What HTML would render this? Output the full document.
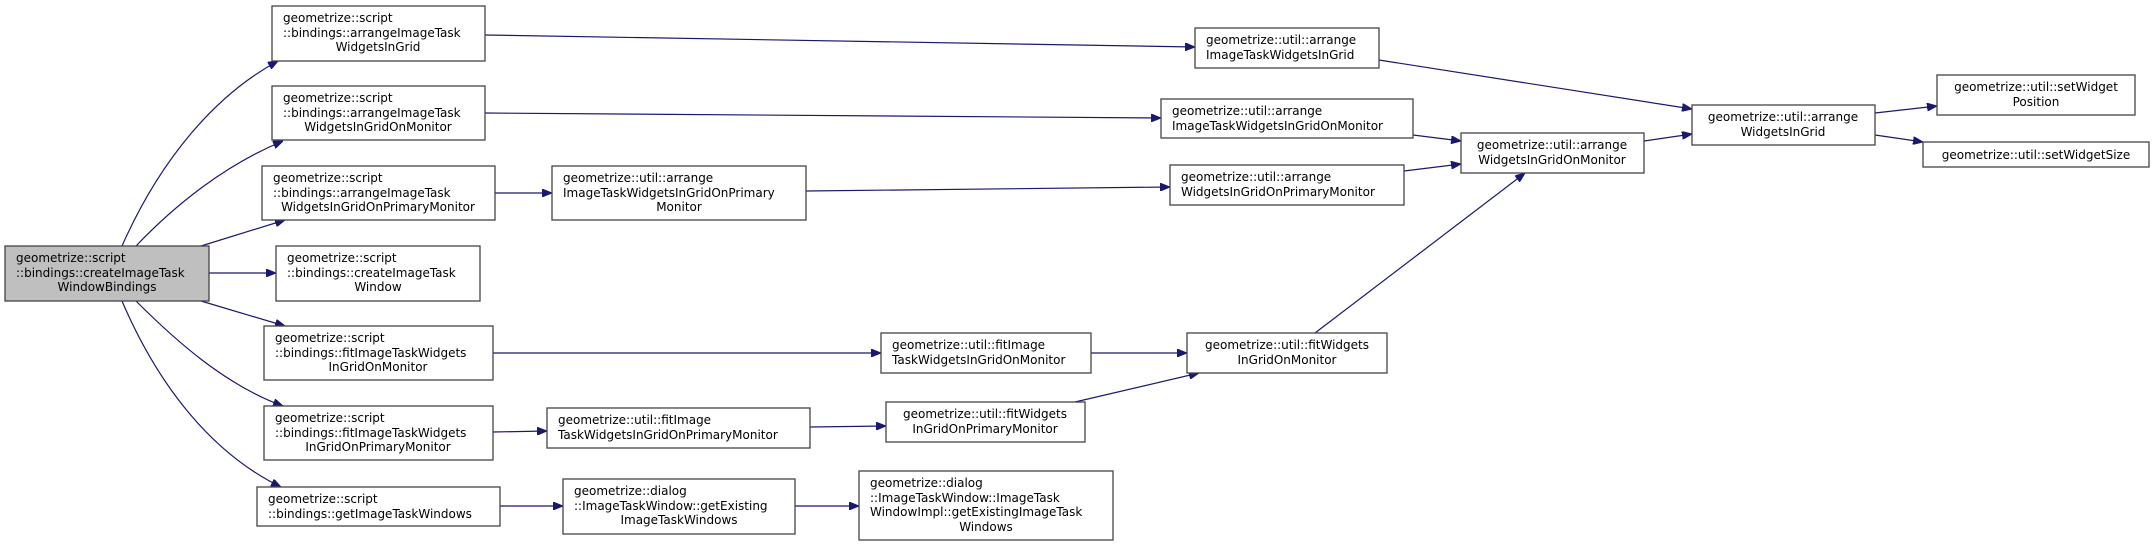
<!DOCTYPE html>
<html><head><meta charset="utf-8"><style>
html,body{margin:0;padding:0;background:#fff;}
svg{display:block;}
text{font-family:"DejaVu Sans","Liberation Sans",sans-serif;font-size:12px;fill:#000;}
.b{fill:#fff;stroke:#444;stroke-width:1.3;}
.r{fill:#bfbfbf;stroke:#444;stroke-width:1.3;}
.e{fill:none;stroke:#191970;stroke-width:1.2;}
</style></head><body>
<svg width="2155" height="547" viewBox="0 0 2155 547" xmlns="http://www.w3.org/2000/svg">
<defs><marker id="a" markerWidth="10" markerHeight="8" refX="10" refY="4" orient="auto" markerUnits="userSpaceOnUse"><path d="M0,0 L10,4 L0,8 Z" fill="#191970" stroke="#191970"/></marker></defs>

<!-- edges -->
<path class="e" marker-end="url(#a)" d="M122,246 C160,160 215,95 278,61"/>
<path class="e" marker-end="url(#a)" d="M136,246 C175,205 225,165 283,141"/>
<path class="e" marker-end="url(#a)" d="M201,246 L285,220"/>
<path class="e" marker-end="url(#a)" d="M209,273 L276,273"/>
<path class="e" marker-end="url(#a)" d="M201,301 L285,326"/>
<path class="e" marker-end="url(#a)" d="M136,301 C175,340 225,385 283,406"/>
<path class="e" marker-end="url(#a)" d="M122,301 C160,390 215,455 281,487"/>
<path class="e" marker-end="url(#a)" d="M485,35 L1195,47"/>
<path class="e" marker-end="url(#a)" d="M485,113 L1161,118"/>
<path class="e" marker-end="url(#a)" d="M495,193 L552,193"/>
<path class="e" marker-end="url(#a)" d="M806,191 L1170,187"/>
<path class="e" marker-end="url(#a)" d="M493,353 L881,353"/>
<path class="e" marker-end="url(#a)" d="M1091,353 L1187,353"/>
<path class="e" marker-end="url(#a)" d="M1315,333 L1525,173"/>
<path class="e" marker-end="url(#a)" d="M493,432 L547,431"/>
<path class="e" marker-end="url(#a)" d="M810,427 L886,426"/>
<path class="e" marker-end="url(#a)" d="M1075,402 L1199,373"/>
<path class="e" marker-end="url(#a)" d="M500,506 L563,506"/>
<path class="e" marker-end="url(#a)" d="M795,506 L859,506"/>
<path class="e" marker-end="url(#a)" d="M1379,60 L1692,109"/>
<path class="e" marker-end="url(#a)" d="M1413,135 L1461,141"/>
<path class="e" marker-end="url(#a)" d="M1404,171 L1461,164"/>
<path class="e" marker-end="url(#a)" d="M1644,141 L1692,134"/>
<path class="e" marker-end="url(#a)" d="M1875,113 L1937,106"/>
<path class="e" marker-end="url(#a)" d="M1875,135 L1923,142"/>

<!-- root -->
<rect class="r" x="5" y="246" width="204" height="55"/>
<text x="16" y="262">geometrize::script</text>
<text x="16" y="277">::bindings::createImageTask</text>
<text x="107" y="291" text-anchor="middle">WindowBindings</text>

<rect class="b" x="272" y="6" width="213" height="55"/>
<text x="283" y="22">geometrize::script</text>
<text x="283" y="37">::bindings::arrangeImageTask</text>
<text x="378" y="51" text-anchor="middle">WidgetsInGrid</text>

<rect class="b" x="272" y="86" width="213" height="54"/>
<text x="283" y="102">geometrize::script</text>
<text x="283" y="117">::bindings::arrangeImageTask</text>
<text x="378" y="131" text-anchor="middle">WidgetsInGridOnMonitor</text>

<rect class="b" x="262" y="166" width="233" height="54"/>
<text x="273" y="182">geometrize::script</text>
<text x="273" y="197">::bindings::arrangeImageTask</text>
<text x="378" y="211" text-anchor="middle">WidgetsInGridOnPrimaryMonitor</text>

<rect class="b" x="276" y="246" width="204" height="55"/>
<text x="287" y="262">geometrize::script</text>
<text x="287" y="277">::bindings::createImageTask</text>
<text x="378" y="291" text-anchor="middle">Window</text>

<rect class="b" x="264" y="326" width="229" height="54"/>
<text x="275" y="342">geometrize::script</text>
<text x="275" y="357">::bindings::fitImageTaskWidgets</text>
<text x="378" y="371" text-anchor="middle">InGridOnMonitor</text>

<rect class="b" x="264" y="406" width="229" height="54"/>
<text x="275" y="422">geometrize::script</text>
<text x="275" y="437">::bindings::fitImageTaskWidgets</text>
<text x="378" y="451" text-anchor="middle">InGridOnPrimaryMonitor</text>

<rect class="b" x="257" y="487" width="243" height="39"/>
<text x="268" y="503">geometrize::script</text>
<text x="268" y="518">::bindings::getImageTaskWindows</text>

<rect class="b" x="552" y="166" width="254" height="54"/>
<text x="563" y="182">geometrize::util::arrange</text>
<text x="563" y="197">ImageTaskWidgetsInGridOnPrimary</text>
<text x="679" y="211" text-anchor="middle">Monitor</text>

<rect class="b" x="547" y="408" width="263" height="40"/>
<text x="558" y="424">geometrize::util::fitImage</text>
<text x="558" y="439">TaskWidgetsInGridOnPrimaryMonitor</text>

<rect class="b" x="563" y="479" width="232" height="55"/>
<text x="574" y="495">geometrize::dialog</text>
<text x="574" y="510">::ImageTaskWindow::getExisting</text>
<text x="679" y="524" text-anchor="middle">ImageTaskWindows</text>

<rect class="b" x="859" y="471" width="254" height="69"/>
<text x="870" y="487">geometrize::dialog</text>
<text x="870" y="502">::ImageTaskWindow::ImageTask</text>
<text x="870" y="516">WindowImpl::getExistingImageTask</text>
<text x="986" y="531" text-anchor="middle">Windows</text>

<rect class="b" x="881" y="333" width="210" height="40"/>
<text x="892" y="349">geometrize::util::fitImage</text>
<text x="892" y="364">TaskWidgetsInGridOnMonitor</text>

<rect class="b" x="886" y="402" width="199" height="40"/>
<text x="985" y="418" text-anchor="middle">geometrize::util::fitWidgets</text>
<text x="985" y="433" text-anchor="middle">InGridOnPrimaryMonitor</text>

<rect class="b" x="1195" y="28" width="184" height="40"/>
<text x="1206" y="44">geometrize::util::arrange</text>
<text x="1206" y="59">ImageTaskWidgetsInGrid</text>

<rect class="b" x="1161" y="99" width="252" height="39"/>
<text x="1172" y="115">geometrize::util::arrange</text>
<text x="1172" y="130">ImageTaskWidgetsInGridOnMonitor</text>

<rect class="b" x="1170" y="165" width="234" height="40"/>
<text x="1181" y="181">geometrize::util::arrange</text>
<text x="1181" y="196">WidgetsInGridOnPrimaryMonitor</text>

<rect class="b" x="1187" y="333" width="200" height="40"/>
<text x="1287" y="349" text-anchor="middle">geometrize::util::fitWidgets</text>
<text x="1287" y="364" text-anchor="middle">InGridOnMonitor</text>

<rect class="b" x="1461" y="133" width="183" height="40"/>
<text x="1552" y="149" text-anchor="middle">geometrize::util::arrange</text>
<text x="1552" y="164" text-anchor="middle">WidgetsInGridOnMonitor</text>

<rect class="b" x="1692" y="105" width="183" height="40"/>
<text x="1783" y="121" text-anchor="middle">geometrize::util::arrange</text>
<text x="1783" y="136" text-anchor="middle">WidgetsInGrid</text>

<rect class="b" x="1937" y="75" width="198" height="40"/>
<text x="2036" y="91" text-anchor="middle">geometrize::util::setWidget</text>
<text x="2036" y="106" text-anchor="middle">Position</text>

<rect class="b" x="1923" y="142" width="226" height="25"/>
<text x="2036" y="159" text-anchor="middle">geometrize::util::setWidgetSize</text>
</svg>
</body></html>
